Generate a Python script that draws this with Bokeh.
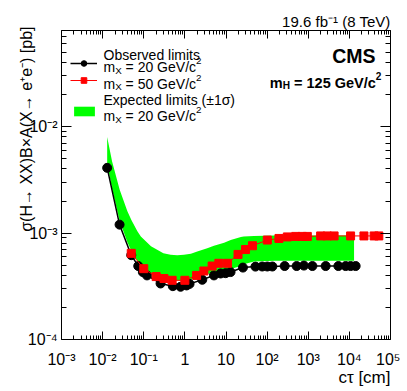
import math
from bokeh.plotting import figure
from bokeh.models import (ColumnDataSource, FixedTicker, LogAxis, Label, Legend, LegendItem,
                          Title)
from bokeh.embed import file_html
from bokeh.resources import INLINE

# ---------------- data ----------------
# observed limits, m_X = 20 GeV/c^2
ctau_obs20 = [0.0129, 0.0258, 0.0497, 0.0735, 0.095, 0.12, 0.256, 0.51, 0.785, 1.1, 1.3,
              2.65, 5.1, 7.4, 9.8, 12.9, 25.8, 52, 76, 101, 134, 267, 522, 785, 1260,
              2650, 5400, 8130, 10700, 14200]
lim_obs20 = [4.1e-3, 1.2e-3, 6.2e-4, 4.9e-4, 4.3e-4, 4.0e-4, 3.36e-4, 3.17e-4, 3.13e-4,
             3.22e-4, 3.33e-4, 3.64e-4, 4.0e-4, 4.17e-4, 4.2e-4, 4.3e-4, 4.74e-4, 4.84e-4,
             4.85e-4, 4.85e-4, 4.85e-4, 4.9e-4, 4.9e-4, 4.95e-4, 4.9e-4, 4.9e-4, 4.9e-4,
             4.9e-4, 4.9e-4, 4.9e-4]

# observed limits, m_X = 50 GeV/c^2
ctau_obs50 = [0.0497, 0.1, 0.2, 0.31, 0.49, 1.0, 1.93, 2.9, 4.6, 6.7, 10.9, 19.6, 29.9, 44,
              101, 194, 310, 494, 715, 950, 2000, 2900, 4250, 10700, 22600, 40000, 52000]
lim_obs50 = [6.45e-4, 4.63e-4, 3.9e-4, 3.74e-4, 3.6e-4, 3.6e-4, 4.0e-4, 4.4e-4, 4.9e-4,
             5.2e-4, 5.2e-4, 6.3e-4, 7.0e-4, 7.6e-4, 8.6e-4, 8.9e-4, 9.2e-4, 9.3e-4,
             9.3e-4, 9.3e-4, 9.4e-4, 9.4e-4, 9.4e-4, 9.4e-4, 9.4e-4, 9.4e-4, 9.4e-4]

# expected limits (+-1 sigma band), m_X = 20 GeV/c^2
ctau_exp = [0.0129, 0.017, 0.026, 0.04, 0.05, 0.07, 0.085, 0.15, 0.3, 0.45, 0.65, 0.95,
            1.4, 2.0, 3.5, 5.1, 9, 13, 23, 27, 48, 150, 13000]
exp_up = [8.0e-3, 4.7e-3, 2.55e-3, 1.6e-3, 1.33e-3, 1.04e-3, 9.3e-4, 7.5e-4, 6.45e-4,
          6.25e-4, 6.2e-4, 6.25e-4, 6.4e-4, 6.7e-4, 7.2e-4, 7.6e-4, 8.1e-4, 8.6e-4,
          9.2e-4, 9.3e-4, 9.4e-4, 9.5e-4, 9.5e-4]
exp_dn = [4.5e-3, 2.6e-3, 1.3e-3, 8.2e-4, 6.8e-4, 5.5e-4, 5.1e-4, 4.2e-4, 3.75e-4,
          3.64e-4, 3.58e-4, 3.56e-4, 3.65e-4, 3.8e-4, 4.1e-4, 4.3e-4, 4.5e-4, 4.6e-4,
          4.9e-4, 5.1e-4, 5.4e-4, 5.5e-4, 5.5e-4]

x_decades = list(range(-3, 6))
y_decades = list(range(-4, -1))

x_title = "c\u03c4 [cm]"
y_title = "\u03c3(H\u2192 XX)B\u00d7A(X\u2192 e\u207ae\u207b) [pb]"
lumi_text = "19.6 fb\u207b\u00b9 (8 TeV)"

FONT = "Liberation Sans"
SUP = {"-": "\u207b", "0": "\u2070", "1": "\u00b9", "2": "\u00b2", "3": "\u00b3",
       "4": "\u2074", "5": "\u2075", "6": "\u2076", "7": "\u2077", "8": "\u2078", "9": "\u2079"}

def pow_label(e):
    if e == 0:
        return "1"
    if e == 1:
        return "10"
    return "10" + "".join(SUP[c] for c in str(e))

# ---------------- figure ----------------
W, H = 400, 386
FL, FR, FT, FB = 61, 390, 30, 339   # frame edges in canvas pixels
p = figure(width=W, height=H, x_axis_type="log", y_axis_type="log",
           x_range=(1e-3, 1e5), y_range=(1e-4, 0.08),
           output_backend="svg", toolbar_location=None, tools="",
           min_border_left=FL, min_border_right=W - FR, min_border_top=FT,
           min_border_bottom=H - FB)
p.grid.visible = False
p.outline_line_color = "black"
p.outline_line_width = 1
p.background_fill_color = "white"
p.border_fill_color = "white"

p.title.text = lumi_text
p.title.align = "right"
p.title.text_font = FONT
p.title.text_font_size = "15px"
p.title.text_font_style = "normal"
p.title.text_color = "black"
p.title.standoff = 2

band = ColumnDataSource(dict(x=ctau_exp, lo=exp_dn, hi=exp_up))
src20 = ColumnDataSource(dict(x=ctau_obs20, y=lim_obs20))
src50 = ColumnDataSource(dict(x=ctau_obs50, y=lim_obs50))

r_band = p.varea(x="x", y1="lo", y2="hi", source=band, fill_color="#00ff00")
r20l = p.line("x", "y", source=src20, line_color="black", line_width=1.5)
r20p = p.scatter("x", "y", source=src20, marker="circle", size=9, fill_color="black",
                 line_color="black")
r50l = p.line("x", "y", source=src50, line_color="red", line_width=1)
r50p = p.scatter("x", "y", source=src50, marker="square", size=8, fill_color="red",
                 line_color="red")

# ---------------- axes ----------------
x_major = [10.0 ** k for k in x_decades]
y_major = [10.0 ** k for k in y_decades]
xt = FixedTicker(ticks=x_major,
                 minor_ticks=[m * 10.0 ** k for k in x_decades[:-1] for m in range(2, 10)])
yt = FixedTicker(ticks=y_major,
                 minor_ticks=[m * 10.0 ** k for k in y_decades for m in range(2, 10)
                              if m * 10.0 ** k <= 0.08])

def style(ax, ticker, major, minor, overrides=None):
    ax.ticker = ticker
    ax.axis_line_color = None
    ax.major_tick_in = major
    ax.major_tick_out = 0
    ax.minor_tick_in = minor
    ax.minor_tick_out = 0
    ax.major_tick_line_color = "black"
    ax.minor_tick_line_color = "black"
    if overrides:
        ax.major_label_overrides = overrides
        ax.major_label_text_font = FONT
        ax.major_label_text_font_size = "16px"
        ax.major_label_text_color = "black"
    else:
        ax.major_label_text_alpha = 0
        ax.major_label_text_font_size = "1px"
        ax.major_label_standoff = 0

style(p.xaxis[0], xt, 8, 4, {v: pow_label(k) for v, k in zip(x_major, x_decades)})
p.xaxis[0].major_label_standoff = 11
style(p.yaxis[0], yt, 10, 5, {v: pow_label(k) for v, k in zip(y_major, y_decades)})
p.yaxis[0].major_label_standoff = 4

top = LogAxis()
style(top, xt, 8, 4)
p.add_layout(top, "above")
right = LogAxis()
style(right, yt, 10, 5)
p.add_layout(right, "right")

# axis titles as side titles (aligned to the far end like the original)
p.add_layout(Title(text=x_title, align="right", text_font=FONT, text_font_size="17px",
                   text_font_style="normal", text_color="black", standoff=-9), "below")
p.add_layout(Title(text=y_title, align="right", text_font=FONT, text_font_size="16px",
                   text_font_style="normal", text_color="black", standoff=-21,
                   offset=-4), "left")

# ---------------- legend swatches ----------------
legA = Legend(items=[LegendItem(label="", renderers=[r20l, r20p]),
                     LegendItem(label="", renderers=[r50l, r50p])],
              location=(9, 252), padding=0, margin=0, spacing=3,
              glyph_width=27, glyph_height=14, label_height=14, label_width=0,
              label_standoff=0, label_text_font_size="10px",
              border_line_color=None, background_fill_alpha=0)
legB = Legend(items=[LegendItem(label="", renderers=[r_band])],
              location=(10, 222), padding=0, margin=0,
              glyph_width=26, glyph_height=12, label_height=12, label_width=0,
              label_standoff=0, label_text_font_size="10px",
              border_line_color=None, background_fill_alpha=0)
p.add_layout(legA)
p.add_layout(legB)

# ---------------- rich text helper (inside the frame) ----------------
NB = "\u00a0"
W_REG = {" ": .278, NB: .278, "(": .333, ")": .333, "+": .584, "-": .333, ".": .278,
         "/": .278, "=": .584, "\u00b1": .584, "\u03c3": .57,
         "E": .667, "G": .778, "O": .778, "V": .667, "X": .667,
         "a": .556, "b": .556, "c": .5, "d": .556, "e": .556, "i": .222,
         "l": .222, "m": .833, "p": .556, "r": .333, "s": .5, "t": .278, "v": .5, "x": .5}
W_BOLD = {" ": .278, NB: .278, "=": .584, "/": .278, "G": .778, "H": .722, "C": .722,
          "M": .833, "S": .667, "V": .667, "c": .556, "e": .556, "m": .889}

def width(s, size, bold):
    tab = W_BOLD if bold else W_REG
    return sum(tab.get(ch, .556) for ch in s) * size

def rich(segs, x, y, size, bold=False, align="left"):
    """x, y: canvas pixels (origin top-left), converted to frame 'screen' units."""
    parts = []
    for s, kind in segs:
        s = s.replace(" ", NB)
        sz = size * 0.7 if kind != "n" else size
        off = {"n": 0.0, "sub": 0.22 * size, "sup": -0.42 * size}[kind]
        parts.append((s, sz, off, width(s, sz, bold)))
    total = sum(w for *_, w in parts)
    cur = 0.0 if align == "left" else -total
    for s, sz, off, w in parts:
        cx, cy = x + cur, y + off
        p.add_layout(Label(x=cx - FL, y=FB - cy, x_units="screen", y_units="screen", text=s,
                           text_font=FONT, text_font_size=f"{sz:.1f}px",
                           text_font_style="bold" if bold else "normal",
                           text_color="black", text_align="left",
                           text_baseline="alphabetic"))
        cur += w

rich([("CMS", "n")], 375, 55, 19.5, bold=True, align="right")
rich([("m", "n"), ("H", "sub"), (" = 125 GeV/c", "n"), ("2", "sup")], 381, 82, 14.5,
     bold=True, align="right")

rich([("Observed limits", "n")], 103, 54.5, 14)
rich([("m", "n"), ("X", "sub"), (" = 20 GeV/c", "n"), ("2", "sup")], 103, 66.7, 14)
rich([("m", "n"), ("X", "sub"), (" = 50 GeV/c", "n"), ("2", "sup")], 103, 83.3, 14)
rich([("Expected limits (\u00b11\u03c3)", "n")], 103, 99, 14)
rich([("m", "n"), ("X", "sub"), (" = 20 GeV/c", "n"), ("2", "sup")], 103, 115.7, 14)

open("out.html", "w").write(file_html(p, INLINE))
